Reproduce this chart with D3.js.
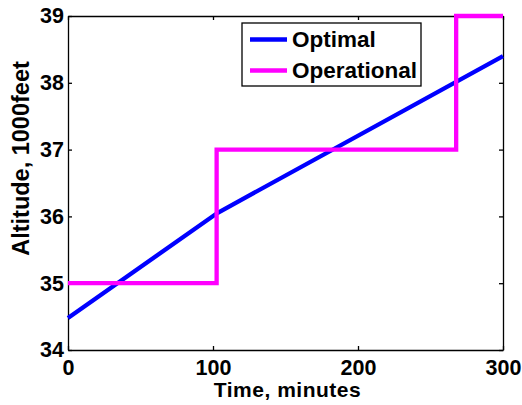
<!DOCTYPE html>
<html>
<head>
<meta charset="utf-8">
<script src="https://cdn.jsdelivr.net/npm/d3@7"></script>
<style>
  body { margin: 0; background: #fff; }
  svg { display: block; font-family: "Liberation Sans", Arial, sans-serif; font-weight: bold; }
  .axis path, .axis line { stroke: #000; stroke-width: 1.3; }
  .axis text { font-size: 21.5px; font-weight: bold; fill: #000; }
</style>
</head>
<body>
<svg class="chart"></svg>
<script>
// DATA
var optimalTime = [0, 103, 300];
var optimalAlt = [34.48, 36.05, 38.4];
var operTime = [0, 102.5, 102.5, 267.7, 267.7, 300];
var operAlt = [35, 35, 37, 37, 39, 39];
var xTicks = [0, 100, 200, 300];
var yTicks = [34, 35, 36, 37, 38, 39];
var seriesNames = ["Optimal", "Operational"];
var seriesColors = ["#0000ff", "#ff00ff"];

var margin = {top: 16, right: 19, bottom: 55, left: 68},
    width = 522 - margin.left - margin.right,
    height = 405 - margin.top - margin.bottom;

var svg = d3.select(".chart")
    .attr("width", 522)
    .attr("height", 405);

var g = svg.append("g")
    .attr("transform", "translate(" + margin.left + "," + margin.top + ")");

var x = d3.scaleLinear().domain([0, 300]).range([0, width]);
var y = d3.scaleLinear().domain([34, 39]).range([height, 0]);

// AXES (ticks inside, mirrored box)
g.append("g").attr("class", "axis")
    .attr("transform", "translate(0," + height + ")")
    .call(d3.axisBottom(x).tickValues(xTicks).tickSizeInner(-4).tickSizeOuter(0).tickPadding(10).tickFormat(d3.format("d")));
g.append("g").attr("class", "axis")
    .call(d3.axisLeft(y).tickValues(yTicks).tickSizeInner(-4).tickSizeOuter(0).tickPadding(4).tickFormat(d3.format("d")));
g.append("g").attr("class", "axis")
    .call(d3.axisTop(x).tickValues(xTicks).tickSizeInner(-4).tickSizeOuter(0).tickFormat(""));
g.append("g").attr("class", "axis")
    .attr("transform", "translate(" + width + ",0)")
    .call(d3.axisRight(y).tickValues(yTicks).tickSizeInner(-4).tickSizeOuter(0).tickFormat(""));

// LINES
var line = d3.line()
    .x(function(d) { return x(d[0]); })
    .y(function(d) { return y(d[1]); });

var series = [
  d3.zip(optimalTime, optimalAlt),
  d3.zip(operTime, operAlt)
];

g.selectAll(".series").data(series).enter().append("path")
    .attr("class", "series")
    .attr("fill", "none")
    .attr("stroke", function(d, i) { return seriesColors[i]; })
    .attr("stroke-width", 4.3)
    .attr("d", line);

// AXIS LABELS
svg.append("text")
    .attr("x", 287.5)
    .attr("y", 397)
    .attr("text-anchor", "middle")
    .style("font-size", "21px")
    .style("letter-spacing", "0.5px")
    .text("Time, minutes");

svg.append("text")
    .attr("transform", "translate(29,158.5) rotate(-90)")
    .attr("text-anchor", "middle")
    .style("font-size", "23.5px")
    .text("Altitude, 1000feet");

// LEGEND
var legend = svg.append("g")
    .attr("transform", "translate(242,23)");

legend.append("rect")
    .attr("width", 179)
    .attr("height", 63)
    .attr("fill", "#fff")
    .attr("stroke", "#000")
    .attr("stroke-width", 1.3);

var item = legend.selectAll(".item").data(seriesNames).enter().append("g")
    .attr("class", "item")
    .attr("transform", function(d, i) { return "translate(0," + (16.5 + i * 31) + ")"; });

item.append("line")
    .attr("x1", 8).attr("x2", 45)
    .attr("stroke", function(d, i) { return seriesColors[i]; })
    .attr("stroke-width", 4.3);

item.append("text")
    .attr("x", 50)
    .attr("dy", "0.35em")
    .style("font-size", "22.5px")
    .text(function(d) { return d; });
</script>
</body>
</html>
